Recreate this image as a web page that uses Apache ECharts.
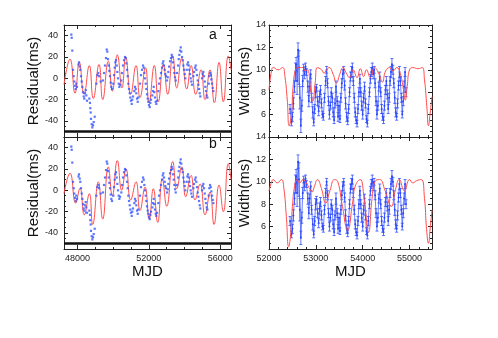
<!DOCTYPE html>
<html>
<head>
<meta charset="utf-8">
<script src="https://cdn.jsdelivr.net/npm/echarts@6/dist/echarts.min.js"></script>
<style>
html, body { margin: 0; padding: 0; background: #fff; }
#chart { width: 498px; height: 338px; }
</style>
</head>
<body>
<div id="chart"></div>
<script>
// timing residuals (blue dots, left panels)
const residualMJD = [47659,47681,47715,47754,47793,47827,47866,47905,47939,47978,
  48062,48090,48129,48163,48202,48241,48275,48314,48353,48387,48426,48465,48499,48538,
  48667,48706,48723,48745,48762,48801,48835,48874,48913,48969,
  49059,49115,49171,49210,49305,
  49434,49490,49546,49602,49641,49675,49714,49753,49787,49826,49865,49899,49938,
  50011,50050,50089,50123,50162,50201,50235,50274,50313,50347,50386,
  50459,50498,50554,50610,50666,50705,50739,50778,50817,50851,50890,50929,50963,51002,51041,51075,51114,
  51187,51226,51265,51299,51338,51377,51411,
  51506,51562,51618,51674,51713,51747,51786,51825,51859,51898,51937,51971,52010,52049,52083,52122,
  52195,52234,52273,52307,52346,52385,52419,52458,
  52531,52570,52626,52682,52738,52777,52811,52850,52889,52923,52962,53018,53057,53091,53130,53186,53242,53281,53315,53354,53393,53427,53466,53505,
  53578,53634,53673,53707,53746,53785,53819,53858,53897,53931,53970,54009,54043,
  54121,54155,54194,54233,54267,54306,54345,54379,54418,
  54491,54530,54586,54625,54659,54698,54737,54771,54810,54849,54883,
  54978,55017,55051,55090,55129,55163,55202,55241,55275,
  55353,55387,55426,55465,55499,55538,55577,55611];
const residualMs = [41,38,26,8,2,-3,-7,-10,-5,-8,
  13,15,11,8,2,-3,-8,-13,-17,-19,-14,-11,-16,-21,
  -19,-23,-28,-32,-38,-43,-46,-44,-41,-36,
  -5,3,5,2,-3,
  -2,5,12,19,27,25,18,12,7,2,-4,-8,-10,
  -5,3,10,15,17,12,6,0,-5,-8,-6,
  -2,5,12,17,20,19,14,8,2,-5,-10,-14,-18,-21,-24,-20,-17,
  -12,-8,-10,-14,-19,-22,-18,
  -5,3,8,12,10,5,0,-5,-10,-15,-19,-22,-25,-27,-23,-20,
  -16,-12,-8,-13,-18,-22,-24,-21,
  -12,-5,0,5,10,14,16,12,8,4,2,-2,1,6,11,16,19,22,20,15,10,5,1,-2,
  5,12,18,22,26,29,25,20,17,12,8,4,0,
  8,13,15,12,8,4,0,-3,-6,
  2,6,10,12,8,3,-2,-6,-10,-14,-17,
  0,4,6,2,-3,-8,-12,-16,-18,
  -5,2,5,3,-1,-5,-9,-12];
const baselineMs = -50;

// model curves (red), read at their turning points
const modelAMJD = [47250,47586,47866,48107,48370,48667,48891,49210,49417,49731,49955,50235,50498,50705,50985,51282,51506,51814,52010,52307,52531,52811,53057,53337,53561,53841,54121,54362,54625,54922,55146,55426,55667,55930,56171,56451,56602];
const modelA = [-6,18,-14,15,-15,12,-19,13,-20,16,-12,22,-9,20,-15,12,-18,10,-23,12,-22,13,-15,21,-9,19,-10,12,-15,8,-20,8,-23,15,-22,21,8];
const modelBMJD = [47250,47586,47905,48146,48387,48667,48857,49171,49417,49731,49955,50235,50481,50722,50985,51282,51506,51786,52021,52251,52497,52755,53001,53337,53561,53841,54065,54362,54586,54866,55146,55426,55650,55930,56171,56451,56602];
const modelB = [-3,16,-12,2,-23,-3,-32,8,-27,22,-5,28,0,20,-9,8,-19,3,-27,1.5,-30,11,-15,27,1.5,22,-6,14,-9,6,-23,-1.5,-32,5,-20,25,10];

// pulse width (right panels)
const widthMJD = [52450,52480,52500,52520,52545,52565,52580,52600,52620,52640,52660,52680,52700,52720,52740,52760,52780,52800,52830,52850,
  52870,52890,52910,52935,52955,52975,52995,53015,53040,53060,53080,53100,53120,53140,53160,53185,53210,53230,53250,53270,
  53290,53310,53330,53350,53370,53390,53410,53430,53455,53475,53495,53515,53535,53555,53575,53595,53615,53635,53660,53680,
  53700,53720,53740,53760,53780,53800,53820,53840,53860,53880,53900,53920,53940,53960,53980,54000,54020,54040,54060,54080,
  54100,54120,54145,54165,54185,54205,54225,54245,54265,54285,54305,54325,54345,54365,54385,54405,54425,54445,54465,54485,
  54505,54525,54545,54565,54585,54605,54625,54645,54665,54685,54705,54725,54745,54765,54785,54805,54825,54845,54865,54885,
  54905,54925];
const widthMs = [6.5,5.3,5.8,7.0,8.5,9.8,10.5,9.0,11.8,10.2,7.5,5.0,6.8,9.0,10.2,9.6,10.3,9.8,8.5,7.2,
  8.5,9.6,7.5,6.2,5.3,6.5,8.0,8.4,7.2,6.3,7.6,8.2,7.0,6.0,5.8,7.5,9.0,10.0,8.8,7.2,
  6.0,6.8,8.0,7.5,6.2,5.5,7.0,8.5,7.2,5.8,6.8,5.6,7.5,8.8,9.6,10.0,8.6,7.0,5.8,5.4,
  6.5,8.0,9.4,9.8,10.2,9.0,7.5,6.2,5.5,5.2,6.5,8.0,9.2,8.0,6.8,6.0,7.5,8.5,7.0,5.6,
  5.2,6.5,8.0,9.2,9.8,10.2,9.6,10.0,8.8,7.2,6.0,6.8,8.5,9.4,8.0,6.5,5.8,5.5,6.8,8.2,
  9.0,7.8,6.5,7.5,9.0,9.8,10.5,10.0,8.8,7.5,6.2,5.8,7.0,8.6,9.8,9.0,7.5,6.0,7.2,8.5,
  9.8,8.0];
const widthErr = [0.4,0.3,0.4,0.5,0.5,0.8,0.6,1.2,0.6,1.5,1.0,0.6,0.5,0.5,0.3,0.4,0.3,0.3,0.5,0.5,
  0.4,0.4,0.4,0.5,0.3,0.4,0.5,0.3,0.4,0.4,0.5,0.4,0.4,0.3,0.3,0.4,0.4,0.3,0.4,0.4,
  0.4,0.3,0.4,0.4,0.4,0.3,0.4,0.5,0.4,0.4,0.4,0.3,0.4,0.4,0.4,0.3,0.4,0.5,0.4,0.3,
  0.4,0.4,0.4,0.5,0.4,0.4,0.4,0.4,0.3,0.3,0.4,0.4,0.4,0.4,0.4,0.4,0.4,0.4,0.4,0.3,
  0.3,0.4,0.4,0.4,0.4,0.4,0.4,0.3,0.4,0.4,0.4,0.4,0.4,0.4,0.4,0.4,0.3,0.3,0.4,0.4,
  0.4,0.4,0.4,0.4,0.4,0.5,0.5,0.4,0.4,0.5,0.4,0.3,0.4,0.4,0.5,0.4,0.4,0.3,0.4,0.5,
  0.4,0.4];
const widthModelTopMJD = [52000,52057,52090,52195,52290,52340,52390,52430,52480,52515,52565,52620,52720,52770,52820,52890,52935,52985,53030,53125,
  53175,53230,53285,53370,53440,53510,53580,53650,53720,53795,53880,53950,54020,54080,54165,54255,54350,54420,54490,54575,
  54645,54730,54800,54860,54910,54950,55000,55070,55180,55270,55320,55370,55405,55440,55480];
const widthModelTop = [8.2,10.0,10.2,10.0,10.2,9.4,7.3,5.0,6.1,8.5,10.0,10.2,10.2,9.9,10.0,8.2,7.2,8.8,10.2,10.0,
  9.7,10.0,10.2,9.6,8.8,9.6,10.2,9.7,9.3,10.0,9.3,10.1,9.4,10.0,9.3,10.2,9.6,8.9,9.9,10.2,
  9.9,10.2,9.7,8.5,7.3,8.5,10.0,10.2,10.1,10.2,9.1,6.7,5.0,6.1,7.6];
const widthModelBotMJD = [52000,52057,52090,52175,52265,52315,52370,52420,52455,52500,52550,52600,52655,52725,52795,52865,52920,52970,53035,53120,
  53210,53300,53400,53470,53560,53680,53780,53840,53945,54030,54125,54200,54260,54360,54480,54610,54700,54780,54890,55000,
  55070,55150,55250,55320,55360,55405,55440,55480];
const widthModelBot = [9.2,10.0,10.2,9.9,10.2,9.5,6.9,4.2,5.0,7.8,9.7,10.2,9.9,10.2,9.9,9.4,9.1,9.6,10.2,9.4,
  8.1,9.2,10.2,10.0,8.0,5.7,8.0,9.6,10.2,8.5,5.5,8.5,10.0,10.2,9.2,7.8,9.3,10.2,9.2,10.2,
  9.9,10.1,10.2,8.5,6.0,4.5,5.8,7.5];

// ticks
const resXMajor = [48000,52000,56000];
const resXMinor = [48000,49000,50000,51000,52000,53000,54000,55000,56000];
const resYMajor = [-40,-20,0,20,40];
const resYMinor = [-55,-50,-45,-40,-35,-30,-25,-20,-15,-10,-5,0,5,10,15,20,25,30,35,40,45,50];
const widXMajor = [52000,53000,54000,55000];
const widXMinor = [52000,52200,52400,52600,52800,53000,53200,53400,53600,53800,54000,54200,54400,54600,54800,55000,55200,55400];
const widYMajor = [6,8,10,12,14];
const widYMinor = [4,4.5,5,5.5,6,6.5,7,7.5,8,8.5,9,9.5,10,10.5,11,11.5,12,12.5,13,13.5,14];

const FONT = 'Liberation Sans, Arial, Helvetica, sans-serif';
const INK = '#222';
const zip = (a, b) => a.map((v, i) => [v, b[i]]);
const plainNum = v => String(v);

const xAxes = [];
const yAxes = [];
function addFrame(g, o) {
  const line = { lineStyle: { color: INK, width: 1 } };
  const plain = { type: 'value', gridIndex: g, splitLine: { show: false } };
  // x axes: bottom major, bottom minor, top major, top minor
  xAxes.push(Object.assign({}, plain, {
    position: 'bottom', min: o.xr[0], max: o.xr[1],
    axisLine: Object.assign({ onZero: false }, line),
    axisTick: Object.assign({ inside: true, length: 4, customValues: o.xMajor }, line),
    axisLabel: { show: o.showX, customValues: o.xMajor, formatter: plainNum, fontSize: 9, color: INK, margin: 5, fontFamily: FONT },
    name: o.showX ? 'MJD' : '', nameLocation: 'middle', nameGap: 14,
    nameTextStyle: { fontSize: 15, color: '#111', fontFamily: FONT }
  }));
  xAxes.push(Object.assign({}, plain, {
    position: 'bottom', min: o.xr[0], max: o.xr[1],
    axisLine: { show: false, onZero: false },
    axisTick: Object.assign({ inside: true, length: 2, customValues: o.xMinor }, line),
    axisLabel: { show: false }
  }));
  xAxes.push(Object.assign({}, plain, {
    position: 'top', min: o.xr[0], max: o.xr[1],
    axisLine: Object.assign({ onZero: false }, line),
    axisTick: Object.assign({ inside: true, length: 4, customValues: o.xMajor }, line),
    axisLabel: { show: false }
  }));
  xAxes.push(Object.assign({}, plain, {
    position: 'top', min: o.xr[0], max: o.xr[1],
    axisLine: { show: false, onZero: false },
    axisTick: Object.assign({ inside: true, length: 2, customValues: o.xMinor }, line),
    axisLabel: { show: false }
  }));
  // y axes: left major, left minor, right major, right minor
  yAxes.push(Object.assign({}, plain, {
    position: 'left', min: o.yr[0], max: o.yr[1],
    axisLine: Object.assign({ onZero: false }, line),
    axisTick: Object.assign({ inside: true, length: 4, customValues: o.yMajor }, line),
    axisLabel: { customValues: o.yMajor, formatter: plainNum, fontSize: 9, color: INK, margin: o.labelMargin, fontFamily: FONT },
    name: o.yName, nameLocation: 'middle', nameGap: o.nameGap,
    nameTextStyle: { fontSize: 15, color: '#111', fontFamily: FONT }
  }));
  yAxes.push(Object.assign({}, plain, {
    position: 'left', min: o.yr[0], max: o.yr[1],
    axisLine: { show: false, onZero: false },
    axisTick: Object.assign({ inside: true, length: 2, customValues: o.yMinor }, line),
    axisLabel: { show: false }
  }));
  yAxes.push(Object.assign({}, plain, {
    position: 'right', min: o.yr[0], max: o.yr[1],
    axisLine: Object.assign({ onZero: false }, line),
    axisTick: Object.assign({ inside: true, length: 4, customValues: o.yMajor }, line),
    axisLabel: { show: false }
  }));
  yAxes.push(Object.assign({}, plain, {
    position: 'right', min: o.yr[0], max: o.yr[1],
    axisLine: { show: false, onZero: false },
    axisTick: Object.assign({ inside: true, length: 2, customValues: o.yMinor }, line),
    axisLabel: { show: false }
  }));
}

const resX = [47250, 56600], resY = [-55, 50];
const widX = [52000, 55480], widY = [4, 14];
addFrame(0, { xr: resX, yr: resY, xMajor: resXMajor, xMinor: resXMinor, yMajor: resYMajor, yMinor: resYMinor, showX: false, yName: 'Residual(ms)', nameGap: 20, labelMargin: 6 });
addFrame(1, { xr: resX, yr: resY, xMajor: resXMajor, xMinor: resXMinor, yMajor: resYMajor, yMinor: resYMinor, showX: true, yName: 'Residual(ms)', nameGap: 20, labelMargin: 6 });
addFrame(2, { xr: widX, yr: widY, xMajor: widXMajor, xMinor: widXMinor, yMajor: widYMajor, yMinor: widYMinor, showX: false, yName: 'Width(ms)', nameGap: 16, labelMargin: 3 });
addFrame(3, { xr: widX, yr: widY, xMajor: widXMajor, xMinor: widXMinor, yMajor: widYMajor, yMinor: widYMinor, showX: true, yName: 'Width(ms)', nameGap: 16, labelMargin: 3 });

function residualSeries(g) {
  return {
    type: 'scatter', xAxisIndex: 4 * g, yAxisIndex: 4 * g,
    data: zip(residualMJD, residualMs),
    symbol: 'rect', symbolSize: 2.2,
    itemStyle: { color: '#3355ff' },
    z: 4,
    markLine: {
      silent: true, symbol: 'none', animation: false,
      label: { show: false },
      lineStyle: { color: '#111', width: 2.5, type: 'solid' },
      data: [{ yAxis: baselineMs }]
    }
  };
}
function modelSeries(g, mjd, vals, z) {
  return {
    type: 'line', xAxisIndex: 4 * g, yAxisIndex: 4 * g,
    data: zip(mjd, vals), smooth: 0.5, showSymbol: false,
    lineStyle: { color: '#ff4d4d', width: 1 }, z: z
  };
}
function widthLine(g) {
  return {
    type: 'line', xAxisIndex: 4 * g, yAxisIndex: 4 * g,
    data: zip(widthMJD, widthMs),
    symbol: 'circle', symbolSize: 2, showSymbol: true,
    itemStyle: { color: '#2646ff' },
    lineStyle: { color: 'rgba(45,75,255,0.7)', width: 1 }, z: 3
  };
}
function widthErrors(g) {
  return {
    type: 'custom', xAxisIndex: 4 * g, yAxisIndex: 4 * g, clip: true,
    data: widthMJD.map((m, i) => [m, widthMs[i] - widthErr[i], widthMs[i] + widthErr[i]]),
    encode: { x: 0, y: [1, 2] },
    renderItem: function (params, api) {
      const lo = api.coord([api.value(0), api.value(1)]);
      const hi = api.coord([api.value(0), api.value(2)]);
      const st = { stroke: 'rgba(40,70,255,0.75)', lineWidth: 1 };
      return {
        type: 'group', children: [
          { type: 'line', shape: { x1: lo[0], y1: lo[1], x2: hi[0], y2: hi[1] }, style: st },
          { type: 'line', shape: { x1: lo[0] - 1.5, y1: lo[1], x2: lo[0] + 1.5, y2: lo[1] }, style: st },
          { type: 'line', shape: { x1: hi[0] - 1.5, y1: hi[1], x2: hi[0] + 1.5, y2: hi[1] }, style: st }
        ]
      };
    },
    z: 3
  };
}

const chart = echarts.init(document.getElementById('chart'), null, { renderer: 'canvas' });
chart.setOption({
  animation: false,
  backgroundColor: '#fff',
  textStyle: { fontFamily: FONT },
  grid: [
    { left: 64, top: 25, width: 167, height: 112 },
    { left: 64, top: 137, width: 167, height: 112 },
    { left: 269, top: 25, width: 163, height: 112 },
    { left: 269, top: 137, width: 163, height: 112 }
  ],
  xAxis: xAxes,
  yAxis: yAxes,
  graphic: [
    { type: 'text', left: 209, top: 28, style: { text: 'a', fill: '#111', font: '14px ' + FONT } },
    { type: 'text', left: 209, top: 137, style: { text: 'b', fill: '#111', font: '14px ' + FONT } }
  ],
  series: [
    modelSeries(0, modelAMJD, modelA, 2),
    residualSeries(0),
    modelSeries(1, modelBMJD, modelB, 2),
    residualSeries(1),
    widthErrors(2),
    widthLine(2),
    modelSeries(2, widthModelTopMJD, widthModelTop, 5),
    widthErrors(3),
    widthLine(3),
    modelSeries(3, widthModelBotMJD, widthModelBot, 5)
  ]
});
</script>
</body>
</html>
